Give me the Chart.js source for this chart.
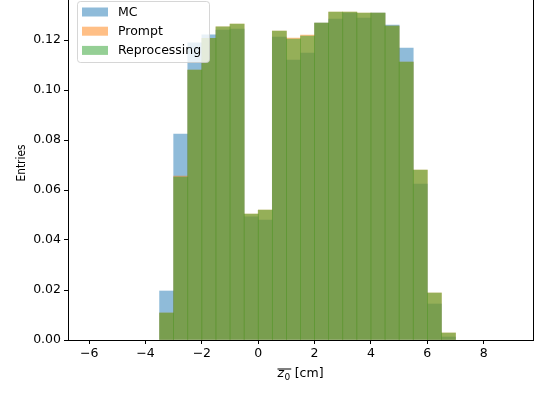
<!DOCTYPE html>
<html>
<head>
<meta charset="utf-8">
<script src="https://cdn.jsdelivr.net/npm/chart.js@4.4.1/dist/chart.umd.min.js"></script>
<style>
	html, body { margin: 0; padding: 0; background: #fff; }
	canvas { display: block; }
</style>
</head>
<body>
<canvas id="histChart" width="542" height="394"></canvas>
<script>
// bin centres (width 0.5 cm), empty bins left out
const binCenters = [-3.25, -2.75, -2.25, -1.75, -1.25, -0.75, -0.25, 0.25, 0.75, 1.25, 1.75,
	2.25, 2.75, 3.25, 3.75, 4.25, 4.75, 5.25, 5.75, 6.25, 6.75];
const mcValues = [0.0196, 0.0824, 0.1189, 0.1221, 0.1240, 0.1244, 0.0493, 0.0480, 0.1212, 0.1120, 0.1148,
	0.1268, 0.1284, 0.1308, 0.1288, 0.1308, 0.1260, 0.1168, 0.0624, 0.0144, 0.0012];
const promptValues = [0.0108, 0.0656, 0.1080, 0.1207, 0.1253, 0.1264, 0.0504, 0.0520, 0.1236, 0.1208, 0.1220,
	0.1268, 0.1312, 0.1312, 0.1308, 0.1308, 0.1256, 0.1112, 0.0680, 0.0188, 0.0028];
const reprocValues = [0.0108, 0.0652, 0.1080, 0.1207, 0.1253, 0.1264, 0.0504, 0.0520, 0.1236, 0.1204, 0.1216,
	0.1268, 0.1312, 0.1312, 0.1308, 0.1308, 0.1256, 0.1112, 0.0680, 0.0188, 0.0028];
const seriesNames = ["MC", "Prompt", "Reprocessing"];
const xTicks = [-6, -4, -2, 0, 2, 4, 6, 8];
const yTicks = [0, 0.02, 0.04, 0.06, 0.08, 0.10, 0.12];

const colors = [
	"rgba(31, 119, 180, 0.5)",
	"rgba(255, 127, 14, 0.5)",
	"rgba(44, 160, 44, 0.5)",
];
const FONT = "'DejaVu Sans', sans-serif";

Chart.defaults.font.family = FONT;
Chart.defaults.font.size = 12.5;
Chart.defaults.color = "#000";

const toPoints = (vals) => binCenters.map((x, i) => ({ x: x, y: vals[i] }));

// legend, axis titles and right spine drawn by hand (matplotlib look)
const extras = {
	id: "extras",
	afterDraw(chart) {
		const c = chart.ctx;
		const area = chart.chartArea;
		c.save();

		// right spine
		c.strokeStyle = "#000";
		c.lineWidth = 1;
		c.beginPath();
		c.moveTo(Math.round(area.right) + 0.5, area.top);
		c.lineTo(Math.round(area.right) + 0.5, area.bottom);
		c.stroke();

		// legend box
		const bx = 77, by = 1.5, bw = 132, bh = 61, r = 3;
		c.beginPath();
		c.roundRect(bx + 0.5, by, bw, bh, r);
		c.fillStyle = "rgba(255,255,255,0.8)";
		c.fill();
		c.strokeStyle = "rgba(204,204,204,0.8)";
		c.stroke();
		c.font = "12.5px " + FONT;
		c.textBaseline = "middle";
		c.textAlign = "left";
		seriesNames.forEach((name, i) => {
			const y = 7.5 + i * 19.2;
			c.fillStyle = colors[i];
			c.fillRect(82, y, 26, 9);
			c.fillStyle = "#000";
			c.fillText(name, 118, y + 5);
		});

		// x title: overline(z_0) [cm]
		const main = "12.5px " + FONT;
		const ital = "italic 12.5px " + FONT;
		const sub = "9px " + FONT;
		c.textBaseline = "alphabetic";
		c.font = ital; const wz = c.measureText("z").width;
		c.font = sub; const w0 = c.measureText("0").width;
		c.font = main; const wr = c.measureText(" [cm]").width;
		let x = (area.left + area.right) / 2 - (wz + w0 + 1 + wr) / 2;
		const base = 377;
		c.font = ital; c.fillText("z", x, base);
		c.font = sub; c.fillText("0", x + wz + 0.5, base + 3);
		c.fillRect(x, 368.5, wz + w0 + 1.5, 1);
		c.font = main; c.fillText(" [cm]", x + wz + w0 + 1, base);

		// y title
		c.translate(21.5, 163);
		c.rotate(-Math.PI / 2);
		c.font = main;
		const we = c.measureText("Entries").width;
		c.scale(37 / we, 1);
		c.textAlign = "center";
		c.textBaseline = "middle";
		c.fillText("Entries", 0, 0);
		c.restore();
	}
};

const config = {
	type: "bar",
	data: {
		datasets: [
			{ label: seriesNames[0], data: toPoints(mcValues), backgroundColor: colors[0], order: 3 },
			{ label: seriesNames[1], data: toPoints(promptValues), backgroundColor: colors[1], order: 2 },
			{ label: seriesNames[2], data: toPoints(reprocValues), backgroundColor: colors[2], order: 1 },
		],
	},
	options: {
		responsive: false,
		animation: false,
		layout: { padding: { left: 0, right: 9, top: 0, bottom: 0 } },
		datasets: {
			bar: { grouped: false, barPercentage: 1, categoryPercentage: 1, borderWidth: 0 },
		},
		scales: {
			x: {
				type: "linear",
				min: -6.75,
				max: 9.75,
				offset: false,
				afterFit: (s) => { s.height = 54; s.paddingLeft = 0; s.paddingRight = 0; },
				afterBuildTicks: (s) => { s.ticks = xTicks.map((v) => ({ value: v })); },
				ticks: {
					padding: 2,
					maxRotation: 0,
					callback: (v) => (v < 0 ? "\u2212" + Math.abs(v) : String(v)),
				},
				grid: { offset: false, drawOnChartArea: false, drawTicks: true, tickLength: 4, tickColor: "#000" },
				border: { display: true, color: "#000", width: 1 },
			},
			y: {
				min: 0,
				max: 0.136,
				afterFit: (s) => { s.width = 68; s.paddingTop = 0; s.paddingBottom = 0; },
				afterBuildTicks: (s) => { s.ticks = yTicks.map((v) => ({ value: v })); },
				ticks: {
					padding: 3,
					callback: (v) => v.toFixed(2),
				},
				grid: { drawOnChartArea: false, drawTicks: true, tickLength: 4, tickColor: "#000" },
				border: { display: true, color: "#000", width: 1 },
			},
		},
		plugins: {
			legend: { display: false },
			tooltip: { enabled: false },
		},
	},
	plugins: [extras],
};

window.addEventListener("DOMContentLoaded", () => {
	const ctx = document.getElementById("histChart").getContext("2d");
	new Chart(ctx, config);
});
</script>
</body>
</html>
